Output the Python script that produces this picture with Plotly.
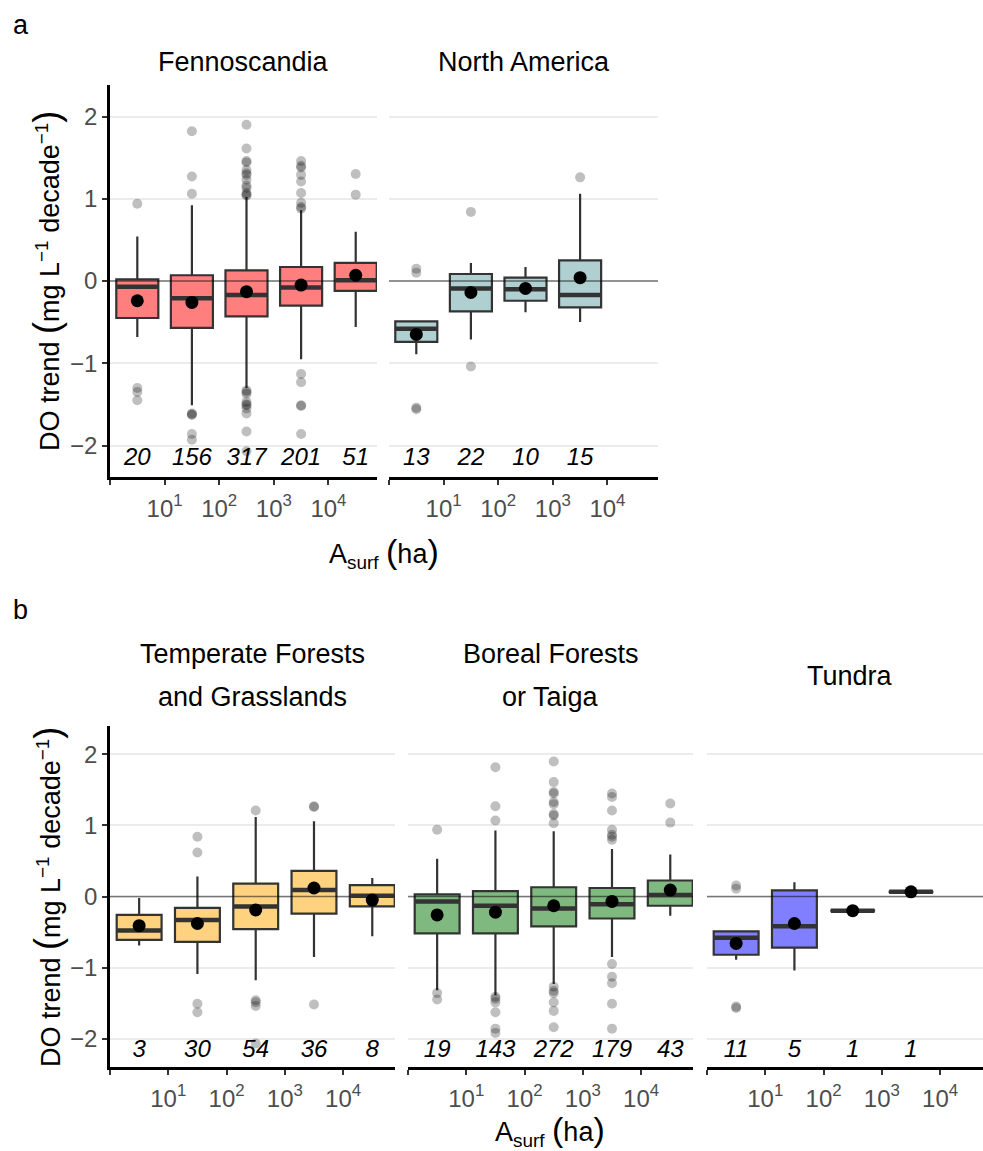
import plotly.graph_objects as go

# ---------------- data ----------------
FACETS = ["Fennoscandia", "North America",
          "Temperate Forests and Grasslands", "Boreal Forests or Taiga", "Tundra"]
COLORS = ["#FF7F7F", "#AFCFD0", "#FFD27F", "#7FB97F", "#7F7FFF"]
X_TICK_LABELS = ["", "10<sup>1</sup>", "10<sup>2</sup>", "10<sup>3</sup>", "10<sup>4</sup>"]
Y_TICKS = [-2, -1, 0, 1, 2]
Y_TICK_LABELS = ["\u22122", "\u22121", "0", "1", "2"]

# Fennoscandia
fen_n = [20, 156, 317, 201, 51]
fen_hi = [0.54, 0.92, 1.02, 0.86, 0.60]
fen_q3 = [0.02, 0.07, 0.13, 0.17, 0.22]
fen_med = [-0.07, -0.21, -0.17, -0.08, 0.01]
fen_q1 = [-0.45, -0.57, -0.43, -0.30, -0.12]
fen_lo = [-0.68, -1.51, -1.30, -0.95, -0.56]
fen_mean = [-0.24, -0.26, -0.13, -0.05, 0.07]
fen_out = [
    [0.94, -1.30, -1.35, -1.45],
    [1.82, 1.27, 1.06, -1.61, -1.62, -1.63, -1.86, -1.93],
    [1.90, 1.61, 1.46, 1.44, 1.35, 1.31, 1.29, 1.23, 1.16, 1.13, 1.07, 1.05, 1.04,
     -1.33, -1.35, -1.37, -1.47, -1.50, -1.51, -1.55, -1.61, -1.83, -2.07],
    [1.46, 1.40, 1.38, 1.29, 1.21, 1.07, 0.95, 0.90, 0.88, -1.13, -1.23, -1.51, -1.52, -1.86],
    [1.30, 1.05],
]

# North America
nam_n = [13, 22, 10, 15]
nam_hi = [-0.49, 0.22, 0.17, 1.06]
nam_q3 = [-0.49, 0.085, 0.04, 0.25]
nam_med = [-0.58, -0.09, -0.10, -0.17]
nam_q1 = [-0.74, -0.37, -0.24, -0.32]
nam_lo = [-0.89, -0.71, -0.38, -0.50]
nam_mean = [-0.65, -0.14, -0.09, 0.04]
nam_out = [[0.15, 0.10, -1.54, -1.56], [0.84, -1.04], [], [1.26]]

# Temperate Forests and Grasslands
tem_n = [3, 30, 54, 36, 8]
tem_hi = [-0.02, 0.28, 1.12, 1.06, 0.26]
tem_q3 = [-0.26, -0.16, 0.18, 0.36, 0.16]
tem_med = [-0.48, -0.33, -0.14, 0.09, 0.01]
tem_q1 = [-0.61, -0.64, -0.46, -0.24, -0.14]
tem_lo = [-0.69, -1.09, -1.18, -0.85, -0.56]
tem_mean = [-0.41, -0.38, -0.19, 0.12, -0.05]
tem_out = [[], [0.84, 0.62, -1.51, -1.63], [1.21, -1.46, -1.49, -1.54, -2.07],
           [1.27, 1.26, -1.52], []]

# Boreal Forests or Taiga
bor_n = [19, 143, 272, 179, 43]
bor_hi = [0.53, 0.93, 0.92, 0.67, 0.59]
bor_q3 = [0.03, 0.075, 0.13, 0.12, 0.225]
bor_med = [-0.07, -0.13, -0.17, -0.11, 0.02]
bor_q1 = [-0.52, -0.52, -0.42, -0.31, -0.13]
bor_lo = [-1.32, -1.39, -1.23, -0.85, -0.27]
bor_mean = [-0.26, -0.22, -0.13, -0.07, 0.09]
bor_out = [
    [0.94, -1.36, -1.45],
    [1.82, 1.27, 1.07, -1.41, -1.44, -1.49, -1.63, -1.86, -1.92],
    [1.90, 1.61, 1.47, 1.45, 1.33, 1.30, 1.16, 1.14, 1.03,
     -1.27, -1.33, -1.36, -1.49, -1.61, -1.84],
    [1.45, 1.40, 1.21, 0.94, 0.87, 0.84, 0.80, -0.95, -1.13, -1.22, -1.51, -1.86],
    [1.31, 1.04],
]

# Tundra
tun_n = [11, 5, 1, 1]
tun_hi = [-0.49, 0.20, -0.20, 0.066]
tun_q3 = [-0.49, 0.085, -0.20, 0.066]
tun_med = [-0.58, -0.42, -0.20, 0.066]
tun_q1 = [-0.82, -0.72, -0.20, 0.066]
tun_lo = [-0.89, -1.04, -0.20, 0.066]
tun_mean = [-0.66, -0.38, -0.20, 0.066]
tun_out = [[0.155, 0.11, -1.55, -1.57], [], [], []]

DATA = [
    (fen_n, fen_hi, fen_q3, fen_med, fen_q1, fen_lo, fen_mean, fen_out),
    (nam_n, nam_hi, nam_q3, nam_med, nam_q1, nam_lo, nam_mean, nam_out),
    (tem_n, tem_hi, tem_q3, tem_med, tem_q1, tem_lo, tem_mean, tem_out),
    (bor_n, bor_hi, bor_q3, bor_med, bor_q1, bor_lo, bor_mean, bor_out),
    (tun_n, tun_hi, tun_q3, tun_med, tun_q1, tun_lo, tun_mean, tun_out),
]

# ---------------- layout geometry ----------------
W, H = 983, 1151
FONT = "Liberation Sans, Arial, sans-serif"
BOX_W = 0.77

def px(x):
    return x / W

def py(y):
    return 1 - y / H

X_PIX = [(110, 377), (389, 658), (110, 395), (408, 693), (707, 983)]
ROW = [0, 0, 1, 1, 1]
Y_PIX = [(85, 477), (726, 1067)]
UNIT = [(377 - 110) / 4.89, (395 - 110) / 4.89]
Y_RANGE = [[-2.383, 2.383], [-2.40, 2.40]]
COUNT_Y = [-2.16, -2.18]

fig = go.Figure()
layout = dict(width=W, height=H, margin=dict(l=0, r=0, t=0, b=0),
              plot_bgcolor="white", paper_bgcolor="white", showlegend=False,
              font=dict(family=FONT, color="black"))
annotations = []

for i, (name, col, d) in enumerate(zip(FACETS, COLORS, DATA)):
    n, hi, q3, med, q1, lo, mean, outl = d
    k = "" if i == 0 else str(i + 1)
    xa, ya = "x" + k, "y" + k
    pos = list(range(1, len(n) + 1))
    r = ROW[i]
    x0p, x1p = X_PIX[i]
    xr = [0.5, 0.5 + (x1p - x0p) / UNIT[r]]
    first = i in (0, 2)

    layout["xaxis" + k] = dict(
        domain=[px(x0p), px(x1p)], anchor=ya, range=xr,
        tickmode="array", tickvals=[0.5, 1.5, 2.5, 3.5, 4.5], ticktext=X_TICK_LABELS,
        ticks="outside", ticklen=5, tickwidth=2, tickcolor="#333333",
        showline=True, linewidth=2.5, linecolor="black",
        showgrid=False, zeroline=False, ticklabelstandoff=3,
        tickfont=dict(family=FONT, size=24, color="#4D4D4D"), fixedrange=True)
    layout["yaxis" + k] = dict(
        domain=[py(Y_PIX[r][1]), py(Y_PIX[r][0])], anchor=xa, range=Y_RANGE[r],
        tickmode="array", tickvals=Y_TICKS, ticktext=Y_TICK_LABELS,
        ticks="outside" if first else "", ticklen=5, tickwidth=2, tickcolor="#333333",
        showticklabels=first, showline=first, linewidth=2.5, linecolor="black",
        showgrid=True, gridcolor="#EBEBEB", gridwidth=1.5, zeroline=False,
        tickfont=dict(family=FONT, size=24, color="#4D4D4D"), fixedrange=True)

    # zero reference line across the facet (drawn beneath the boxes)
    fig.add_trace(go.Scatter(x=xr, y=[0, 0], mode="lines",
                             line=dict(color="rgba(0,0,0,0.5)", width=1.6),
                             xaxis=xa, yaxis=ya, hoverinfo="skip", cliponaxis=False))

    # boxes
    fig.add_trace(go.Box(x=pos, q1=q1, median=med, q3=q3, lowerfence=lo, upperfence=hi,
                         width=BOX_W, fillcolor=col, line=dict(color="#333333", width=2.2),
                         whiskerwidth=0, boxpoints=False, xaxis=xa, yaxis=ya,
                         hoverinfo="skip"))
    # thick median lines
    mx, my = [], []
    for p, m in zip(pos, med):
        mx += [p - BOX_W / 2 + 0.01, p + BOX_W / 2 - 0.01, None]
        my += [m, m, None]
    fig.add_trace(go.Scatter(x=mx, y=my, mode="lines", line=dict(color="#333333", width=4.5),
                             xaxis=xa, yaxis=ya, hoverinfo="skip"))
    # outliers
    ox, oy = [], []
    for p, vals in zip(pos, outl):
        ox += [p] * len(vals)
        oy += vals
    fig.add_trace(go.Scatter(x=ox, y=oy, mode="markers",
                             marker=dict(size=10, color="rgba(0,0,0,0.25)", line=dict(width=0)),
                             xaxis=xa, yaxis=ya, hoverinfo="skip"))
    # means
    fig.add_trace(go.Scatter(x=pos, y=mean, mode="markers",
                             marker=dict(size=13, color="black", line=dict(width=0)),
                             xaxis=xa, yaxis=ya, hoverinfo="skip"))
    # counts
    fig.add_trace(go.Scatter(x=pos, y=[COUNT_Y[r]] * len(n), mode="text",
                             text=["<i>%d</i>" % v for v in n],
                             textfont=dict(family=FONT, size=24, color="black"),
                             xaxis=xa, yaxis=ya, hoverinfo="skip"))

# ---------------- text ----------------
def ann(text, x, y, size, xanchor="center", yanchor="middle", angle=0):
    annotations.append(dict(text=text, x=px(x), y=py(y), xref="paper", yref="paper",
                            showarrow=False, xanchor=xanchor, yanchor=yanchor,
                            textangle=angle, font=dict(family=FONT, size=size, color="black")))

ann("a", 11, 25, 27, xanchor="left")
ann("b", 11, 610, 27, xanchor="left")

ann("Fennoscandia", (110 + 377) / 2, 62, 27)
ann("North America", (389 + 658) / 2, 62, 27)
ann("Temperate Forests", (110 + 395) / 2, 654, 27)
ann("and Grasslands", (110 + 395) / 2, 697, 27)
ann("Boreal Forests", (408 + 693) / 2, 654, 27)
ann("or Taiga", (408 + 693) / 2, 697, 27)
ann("Tundra", (707 + 993) / 2, 676, 27)

ytitle = ("DO trend <span style='font-size:36px'>(</span>mg L<sup>\u22121</sup> "
          "decade<sup>\u22121</sup><span style='font-size:36px'>)</span>")
ann(ytitle, 47, 281, 27, angle=-90)
ann(ytitle, 47, 897, 27, angle=-90)

xtitle = "A<sub>surf</sub> <span style='font-size:34px'>(</span>ha<span style='font-size:34px'>)</span>"
ann(xtitle, 384, 552, 27)
ann(xtitle, 550, 1130, 27)

layout["annotations"] = annotations
fig.update_layout(**layout)
fig.write_html("out.html", config={"displayModeBar": False},
               post_script="document.body.style.margin='0px';document.body.style.overflow='hidden';")
